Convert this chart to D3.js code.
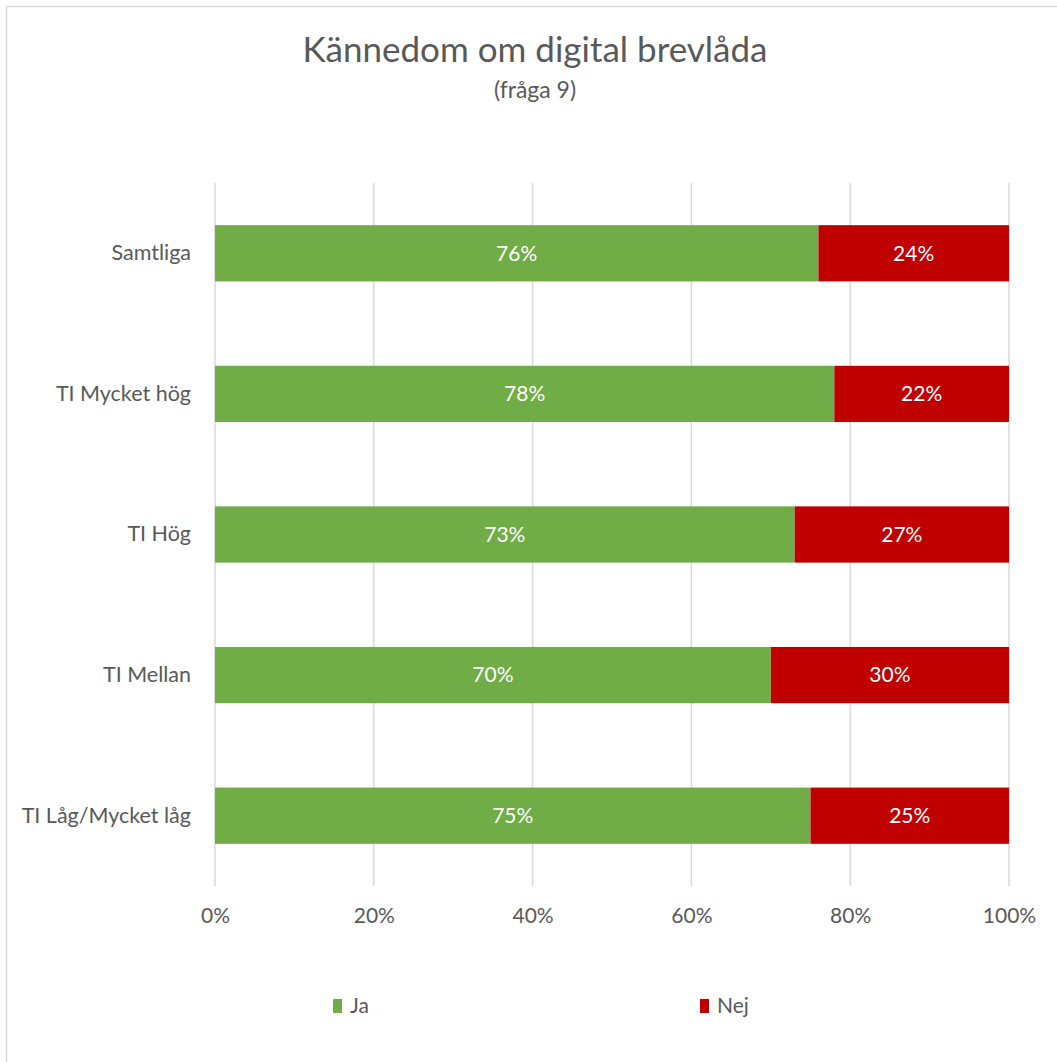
<!DOCTYPE html>
<html>
<head>
<meta charset="utf-8">
<script src="https://cdn.jsdelivr.net/npm/d3@7"></script>
<style>
  html, body { margin: 0; padding: 0; background: #fff; }
  svg { display: block; font-family: "Lato", "Open Sans", sans-serif; }
</style>
</head>
<body>
<svg id="chart" width="1057" height="1062"></svg>
<script>
// Survey groups, top to bottom
const categories = ["Samtliga", "TI Mycket hög", "TI Hög", "TI Mellan", "TI Låg/Mycket låg"];
// Share answering "Ja" / "Nej" (percent)
const jaValues = [76, 78, 73, 70, 75];
const nejValues = [24, 22, 27, 30, 25];
const seriesNames = ["Ja", "Nej"];
const seriesColors = ["#70ad47", "#c00000"];
const tickValues = [0, 20, 40, 60, 80, 100];

const svg = d3.select("#chart");
const textColor = "#595959";
const font = "Lato, 'Open Sans', sans-serif";

// Outer chart frame (top and left edges visible)
svg.append("line").attr("x1", 6.5).attr("x2", 1057).attr("y1", 6.5).attr("y2", 6.5)
  .attr("stroke", "#d9d9d9").attr("stroke-width", 1.5);
svg.append("line").attr("x1", 6.5).attr("x2", 6.5).attr("y1", 6.5).attr("y2", 1062)
  .attr("stroke", "#d9d9d9").attr("stroke-width", 1.5);

// Title
svg.append("text").attr("x", 535).attr("y", 62).attr("text-anchor", "middle")
  .attr("fill", textColor).attr("font-size", 35).text("Kännedom om digital brevlåda");
svg.append("text").attr("x", 535).attr("y", 98).attr("text-anchor", "middle")
  .attr("fill", textColor).attr("font-size", 23).text("(fråga 9)");

const x = d3.scaleLinear().domain([0, 100]).range([215, 1009]);
const y = d3.scaleBand().domain(categories).range([183, 886])
  .paddingInner(0.6).paddingOuter(0.3);

// Vertical gridlines
svg.append("g").selectAll("line").data(tickValues).join("line")
  .attr("x1", d => x(d)).attr("x2", d => x(d))
  .attr("y1", 183).attr("y2", 886)
  .attr("stroke", "#d9d9d9").attr("stroke-width", 1.5);

// Stacked data
const rows = categories.map((c, i) => ({ cat: c, Ja: jaValues[i], Nej: nejValues[i] }));
const stack = d3.stack().keys(seriesNames)(rows);

const layers = svg.append("g").selectAll("g").data(stack).join("g")
  .attr("fill", (d, i) => seriesColors[i]);

layers.selectAll("rect").data(d => d).join("rect")
  .attr("x", d => x(d[0]))
  .attr("y", d => y(d.data.cat))
  .attr("width", d => x(d[1]) - x(d[0]))
  .attr("height", y.bandwidth());

// Value labels
svg.append("g").selectAll("g").data(stack).join("g")
  .selectAll("text").data(d => d.map(v => ({ v, key: d.key }))).join("text")
  .attr("x", d => (x(d.v[0]) + x(d.v[1])) / 2)
  .attr("y", d => y(d.v.data.cat) + y.bandwidth() / 2)
  .attr("dy", "0.35em")
  .attr("text-anchor", "middle")
  .attr("fill", "#ffffff")
  .attr("font-size", 21)
  .text(d => d.v.data[d.key] + "%");

// Category axis labels
const yAxis = d3.axisLeft(y).tickSize(0).tickPadding(24);
const gy = svg.append("g").attr("transform", "translate(215,0)").call(yAxis);
gy.select(".domain").remove();
gy.selectAll("text").attr("fill", textColor).attr("font-size", 21.5)
  .attr("font-family", font);

// Percent axis labels
const xAxis = d3.axisBottom(x).tickValues(tickValues).tickSize(0).tickPadding(0)
  .tickFormat(d => d + "%");
const gx = svg.append("g").attr("transform", "translate(0,908)").call(xAxis);
gx.select(".domain").remove();
gx.selectAll("text").attr("fill", textColor).attr("font-size", 21)
  .attr("font-family", font);

// Legend
const legendX = [333, 700];
const legend = svg.append("g").selectAll("g").data(seriesNames).join("g")
  .attr("transform", (d, i) => `translate(${legendX[i]},999)`);
legend.append("rect").attr("width", 9).attr("height", 14)
  .attr("fill", (d, i) => seriesColors[i]);
legend.append("text").attr("x", 17).attr("y", 7).attr("dy", "0.35em")
  .attr("fill", textColor).attr("font-size", 21).text(d => d);
</script>
</body>
</html>
